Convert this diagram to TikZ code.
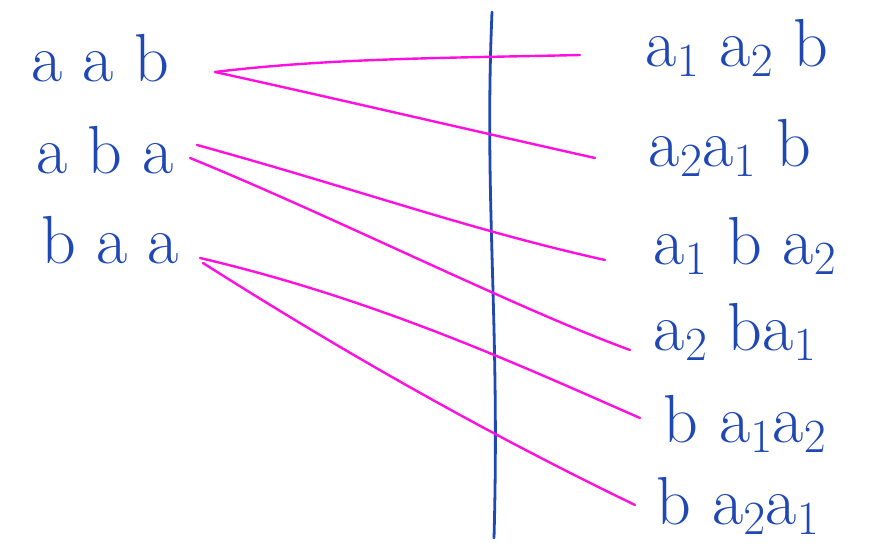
\documentclass[tikz,border=0pt]{standalone}
\usepackage{fix-cm}
\definecolor{inkB}{HTML}{1F48B4}
\definecolor{inkM}{HTML}{FF10E0}
\tikzset{
  word/.style={text=inkB, font=\fontsize{68}{68}\selectfont, inner sep=2pt},
  link/.style={draw=inkM, line width=2.4pt, line cap=round},
  bar/.style={draw=inkB, line width=2.8pt, line cap=round}
}
\newcommand{\gap}{\hspace{0.3em}}
\begin{document}
\begin{tikzpicture}[x=1pt,y=-1pt]
  \useasboundingbox (0,0) rectangle (869,548);

  % ---- left words ----
  \node[word] (aab) at (100,58) {a\gap a\gap b};
  \node[word] (aba) at (105,150) {a\gap b\gap a};
  \node[word] (baa) at (110,240) {b\gap a\gap a};

  % ---- right words ----
  \node[word] (r1) at (737,48) {a$_1$\gap a$_2$\gap b};
  \node[word] (r2) at (730,148) {a$_2$a$_1$\gap b};
  \node[word] (r3) at (745,246) {a$_1$\gap b\gap a$_2$};
  \node[word] (r4) at (735,332) {a$_2$\gap ba$_1$};
  \node[word] (r5) at (745,424) {b\gap a$_1$a$_2$};
  \node[word] (r6) at (738,506) {b\gap a$_2$a$_1$};

  % ---- separating line ----
  \coordinate (top) at (492,12);
  \coordinate (bot) at (494,538);
  \draw[bar] (top) .. controls (484,200) and (500,320) .. (bot);

  % ---- links ----
  \coordinate (s1) at (215,72);
  \coordinate (s2) at (197,145);
  \coordinate (s3) at (190,158);
  \coordinate (s4) at (200,258);
  \coordinate (s5) at (203,263);
  \draw[link] (s1) .. controls (330,58) and (450,58) .. (580,55);
  \draw[link] (s1) .. controls (320,95) and (470,130) .. (595,158);
  \draw[link] (s2) .. controls (360,190) and (470,230) .. (605,260);
  \draw[link] (s3) .. controls (330,215) and (520,310) .. (630,350);
  \draw[link] (s4) .. controls (380,300) and (530,370) .. (640,418);
  \draw[link] (s5) .. controls (340,350) and (480,430) .. (635,505);
\end{tikzpicture}
\end{document}
